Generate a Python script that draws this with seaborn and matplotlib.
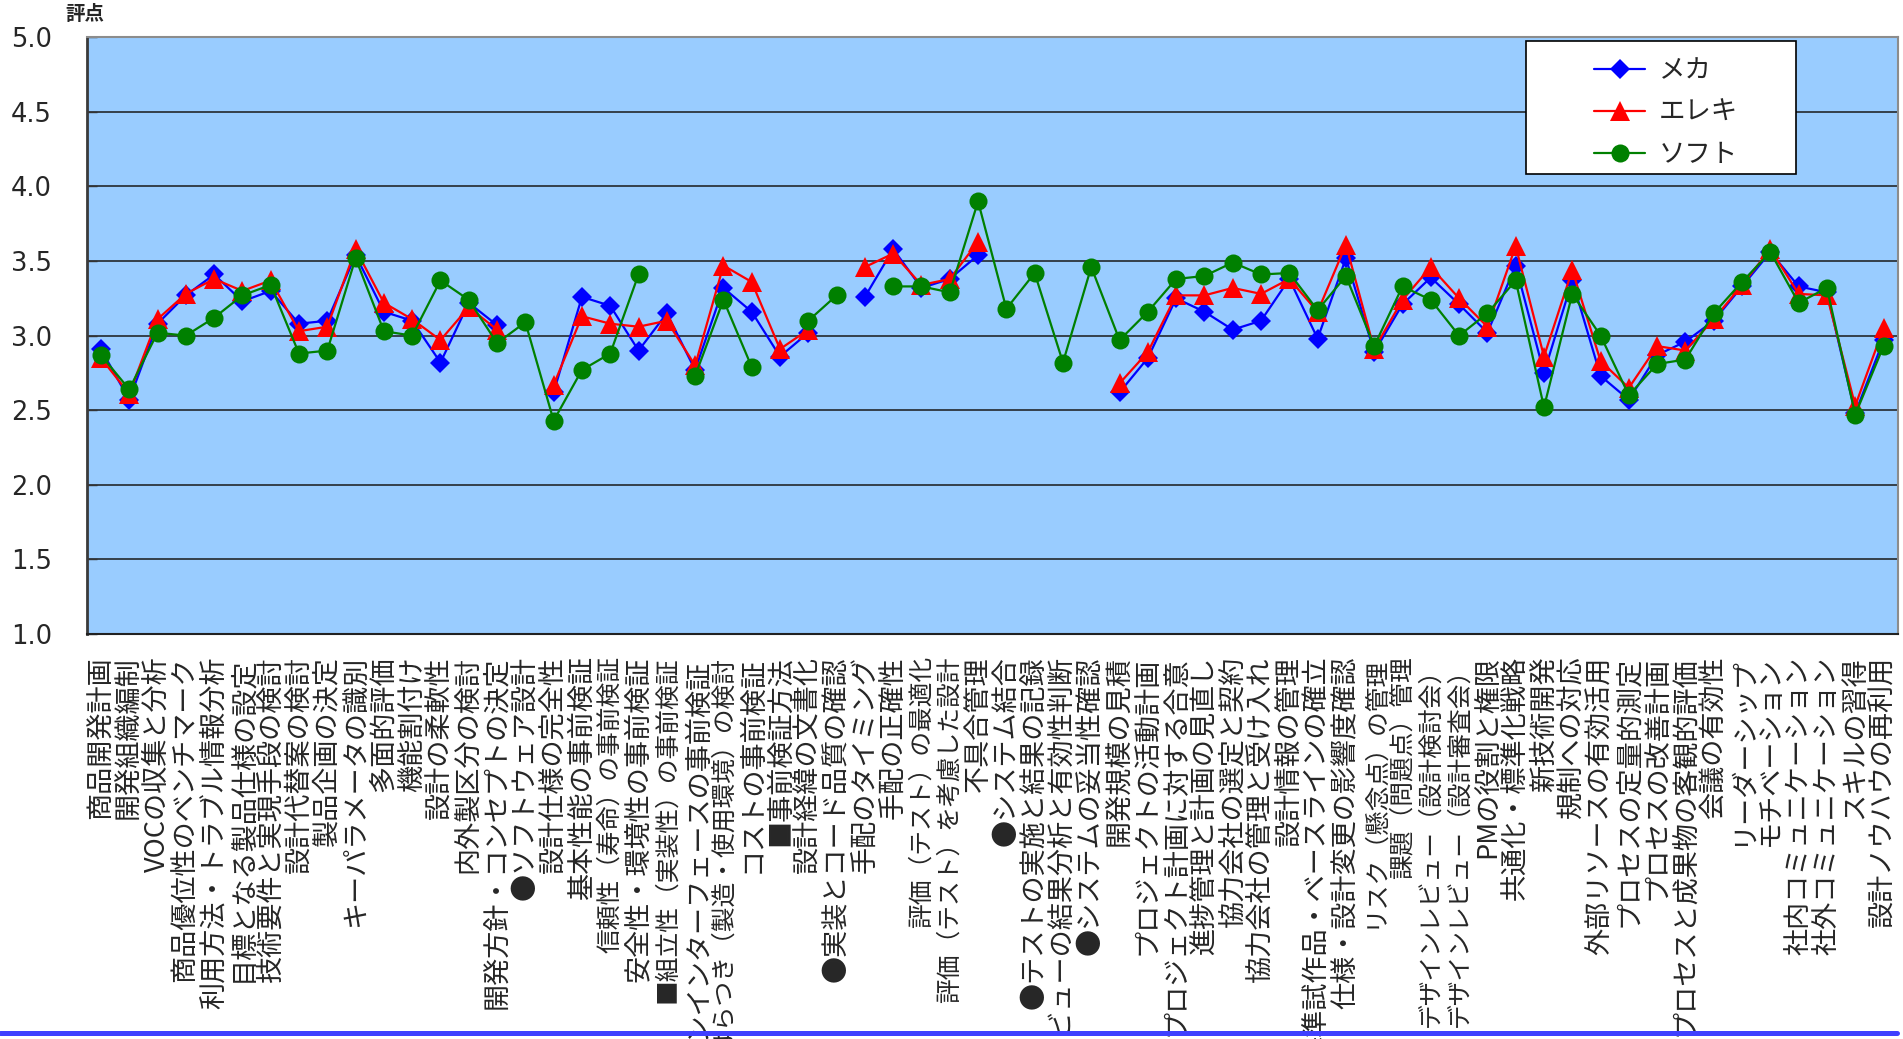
import numpy as np
import pandas as pd
import matplotlib
matplotlib.use("Agg")
import matplotlib.pyplot as plt
from matplotlib.lines import Line2D
from matplotlib.patches import Rectangle
import seaborn as sns

# 評価項目（横軸）
categories = [
    "商品開発計画", "開発組織編制", "VOCの収集と分析", "商品優位性のベンチマーク",
    "利用方法・トラブル情報分析", "目標となる製品仕様の設定", "技術要件と実現手段の検討",
    "設計代替案の検討", "製品企画の決定", "キーパラメータの識別", "多面的評価",
    "機能割付け", "設計の柔軟性", "内外製区分の検討", "開発方針・コンセプトの決定",
    "●ソフトウェア設計", "設計仕様の完全性", "基本性能の事前検証",
    "信頼性（寿命）の事前検証", "安全性・環境性の事前検証", "■組立性（実装性）の事前検証",
    "ヒューマンインターフェースの事前検証", "ばらつき（製造・使用環境）の検討",
    "コストの事前検証", "■事前検証方法", "設計経緯の文書化", "●実装とコード品質の確認",
    "手配のタイミング", "手配の正確性", "評価（テスト）の最適化",
    "評価（テスト）を考慮した設計", "不具合管理", "●システム結合",
    "●テストの実施と結果の記録", "●レビューの結果分析と有効性判断",
    "●システムの妥当性確認", "開発規模の見積", "プロジェクトの活動計画",
    "プロジェクト計画に対する合意", "進捗管理と計画の見直し", "協力会社の選定と契約",
    "協力会社の管理と受け入れ", "設計情報の管理", "基準試作品・ベースラインの確立",
    "仕様・設計変更の影響度確認", "リスク（懸念点）の管理", "課題（問題点）管理",
    "デザインレビュー（設計検討会）", "デザインレビュー（設計審査会）", "PMの役割と権限",
    "共通化・標準化戦略", "新技術開発", "規制への対応", "外部リソースの有効活用",
    "プロセスの定量的測定", "プロセスの改善計画", "プロセスと成果物の客観的評価",
    "会議の有効性", "リーダーシップ", "モチベーション", "社内コミュニケーション",
    "社外コミュニケーション", "スキルの習得", "設計ノウハウの再利用",
]

nan = np.nan
# 評点（メカ）
mecha = [
    2.91, 2.57, 3.08, 3.27, 3.41, 3.23, 3.30, 3.08, 3.10, 3.54,
    3.16, 3.10, 2.82, 3.22, 3.07, nan, 2.62, 3.26, 3.20, 2.90,
    3.15, 2.77, 3.32, 3.16, 2.86, 3.02, nan, 3.26, 3.58, 3.32,
    3.38, 3.54, nan, nan, nan, nan, 2.62, 2.85, 3.25, 3.16,
    3.04, 3.10, 3.38, 2.98, 3.52, 2.89, 3.21, 3.39, 3.21, 3.02,
    3.47, 2.75, 3.37, 2.73, 2.57, 2.87, 2.96, 3.10, 3.33, 3.56,
    3.33, 3.29, 2.48, 2.97,
]
# 評点（エレキ）
elec = [
    2.85, 2.61, 3.11, 3.28, 3.38, 3.30, 3.37, 3.03, 3.06, 3.58,
    3.22, 3.11, 2.97, 3.19, 3.04, nan, 2.67, 3.13, 3.08, 3.06,
    3.10, 2.80, 3.47, 3.36, 2.91, 3.04, nan, 3.46, 3.55, 3.34,
    3.38, 3.63, nan, nan, nan, nan, 2.68, 2.89, 3.27, 3.27,
    3.32, 3.28, 3.38, 3.16, 3.61, 2.91, 3.24, 3.46, 3.25, 3.06,
    3.60, 2.86, 3.44, 2.83, 2.65, 2.93, 2.90, 3.11, 3.34, 3.58,
    3.28, 3.27, 2.53, 3.05,
]
# 評点（ソフト）
soft = [
    2.87, 2.64, 3.02, 3.00, 3.12, 3.27, 3.34, 2.88, 2.90, 3.52,
    3.03, 3.00, 3.37, 3.24, 2.95, 3.09, 2.43, 2.77, 2.88, 3.41,
    nan, 2.73, 3.24, 2.79, nan, 3.10, 3.27, nan, 3.33, 3.33,
    3.29, 3.90, 3.18, 3.42, 2.82, 3.46, 2.97, 3.16, 3.38, 3.40,
    3.49, 3.41, 3.42, 3.17, 3.40, 2.93, 3.33, 3.24, 3.00, 3.15,
    3.37, 2.52, 3.28, 3.00, 2.60, 2.81, 2.84, 3.15, 3.36, 3.56,
    3.22, 3.32, 2.47, 2.93,
]

series_names = ["メカ", "エレキ", "ソフト"]
y_ticks = [1.0, 1.5, 2.0, 2.5, 3.0, 3.5, 4.0, 4.5, 5.0]

sns.set_theme(style="white")
plt.rcParams["font.family"] = ["Noto Sans CJK JP", "DejaVu Sans"]

fig = plt.figure(figsize=(19.03, 10.39), dpi=100)
ax = fig.add_axes([0.0456, 0.3898, 0.9516, 0.5743])
ax.set_facecolor("#99CCFF")

styles = {
    "メカ": dict(color="#0000FF", marker="D", ms=10),
    "エレキ": dict(color="#FF0000", marker="^", ms=14),
    "ソフト": dict(color="#008000", marker="o", ms=13),
}

for name, vals in zip(series_names, [mecha, elec, soft]):
    v = np.array(vals, dtype=float)
    pos = np.arange(len(v))
    seg = np.cumsum(np.isnan(v))  # break the line at missing items
    df = pd.DataFrame({"pos": pos, "score": v, "seg": seg}).dropna()
    st = styles[name]
    sns.lineplot(
        data=df, x="pos", y="score", units="seg", estimator=None, sort=False,
        ax=ax, color=st["color"], marker=st["marker"], markersize=st["ms"],
        markeredgecolor=st["color"], markeredgewidth=0, linewidth=1.6,
        legend=False, zorder=3,
    )

ax.set_xlabel("")
ax.set_ylabel("")
ax.set_xlim(-0.5, len(categories) - 0.5)
ax.set_ylim(1.0, 5.0)

ax.set_xticks(np.arange(len(categories)))
ax.set_xticklabels(categories, rotation=90, ha="center", va="top", fontsize=19.5)
# full-width brackets are wide in this font; tighten those labels a little
for lbl in ax.get_xticklabels():
    if "（" in lbl.get_text():
        lbl.set_fontsize(17.8)
ax.set_yticks(y_ticks)
ax.set_yticklabels([f"{t:.1f}" for t in y_ticks], fontsize=18.5, family="DejaVu Sans")

ax.tick_params(axis="y", direction="in", length=7, width=1, color="#333333",
               pad=25, left=True)
ax.tick_params(axis="x", length=0, pad=16)

ax.yaxis.grid(True, color="#1a1a1a", linewidth=1.1)
ax.xaxis.grid(False)
ax.set_axisbelow(True)

ax.spines["left"].set_color("#3a3a3a")
ax.spines["left"].set_linewidth(2.0)
ax.spines["bottom"].set_color("#222222")
ax.spines["bottom"].set_linewidth(1.5)
for s in ("top", "right"):
    ax.spines[s].set_color("#8c8c8c")
    ax.spines[s].set_linewidth(1.5)

# legend box
ax.add_patch(Rectangle((0.795, 0.771), 0.149, 0.223, transform=ax.transAxes,
                       facecolor="white", edgecolor="black", linewidth=1.2,
                       zorder=4))
handles = [
    Line2D([], [], color=styles[n]["color"], marker=styles[n]["marker"],
           markersize=styles[n]["ms"], markeredgewidth=0, linewidth=1.6)
    for n in series_names
]
leg = ax.legend(handles, series_names, loc="upper left",
                bbox_to_anchor=(0.8323, 0.967), frameon=False, fontsize=19,
                handlelength=1.95, handletextpad=0.5, labelspacing=0.57,
                borderpad=0, borderaxespad=0)
leg.set_zorder(5)

fig.text(65 / 1903, 1 - 14 / 1039, "評点", ha="left", va="center",
         fontsize=14, fontweight="bold")

fig.add_artist(Line2D([0, 0.997], [0.0053, 0.0053], transform=fig.transFigure,
                      color="#3f3fff", linewidth=3.6))

fig.savefig("out.png", dpi=100)
